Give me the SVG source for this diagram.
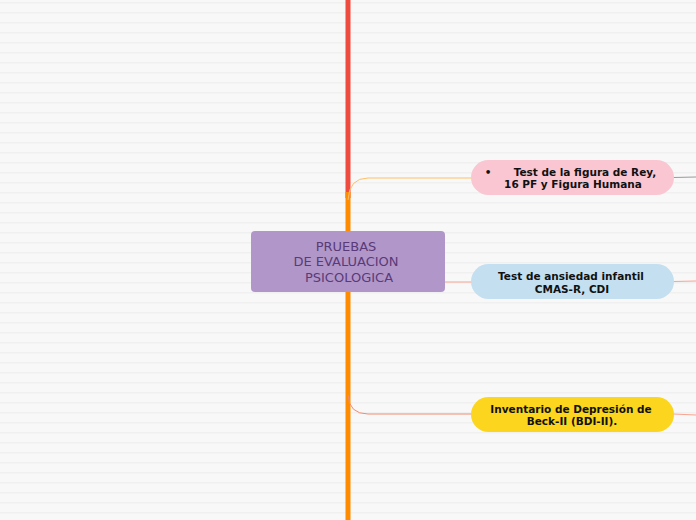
<svg xmlns="http://www.w3.org/2000/svg" width="696" height="520" viewBox="0 0 696 520">
<defs>
<pattern id="stripes" x="0" y="0" width="696" height="10" patternUnits="userSpaceOnUse">
<rect width="696" height="10" fill="#f8f8f8"/>
<rect y="2" width="696" height="1.5" fill="#f0f0f0"/>
</pattern>
</defs>
<style>
.node-text{font-family:"DejaVu Sans",Verdana,sans-serif;font-size:10.5px;font-weight:bold;fill:#111;text-anchor:middle}
.main-text{font-family:"DejaVu Sans",Verdana,sans-serif;font-size:13px;fill:#5a3a78;text-anchor:middle}
.conn{fill:none;stroke-width:1}
</style>
<rect width="696" height="520" fill="url(#stripes)"/>
<g id="connectors">
<line x1="348" y1="0" x2="348" y2="198" stroke="#ef4b3f" stroke-width="5"/>
<line x1="348" y1="192" x2="348" y2="520" stroke="#ff8c00" stroke-width="5"/>
<path class="conn" d="M348,200 Q349,178 368,178 L472,178" stroke="#ffbe66"/>
<path class="conn" d="M445,282 L472,282" stroke="#f7a48f"/>
<path class="conn" d="M348,395 Q349,414 368,414 L472,414" stroke="#f28a6f"/>
<path class="conn" d="M673,177.5 L696,177" stroke="#999999"/>
<path class="conn" d="M673,281.5 L696,281" stroke="#f7a48f"/>
<path class="conn" d="M673,414 L696,415" stroke="#f7a48f"/>
</g>
<g id="main">
<rect x="251" y="231" width="194" height="61" rx="4" fill="#b197c9"/>
<text class="main-text"><tspan x="346" y="251">PRUEBAS</tspan><tspan x="346" y="266">DE EVALUACION</tspan><tspan x="349" y="282">PSICOLOGICA</tspan></text>
</g>
<g id="node1">
<rect x="471" y="160" width="203" height="35" rx="17.5" fill="#f9c6d2"/>
<text class="node-text"><tspan x="488" y="176">•</tspan><tspan x="585" y="176">Test de la figura de Rey,</tspan><tspan x="573" y="188">16 PF y Figura Humana</tspan></text>
</g>
<g id="node2">
<rect x="471" y="264" width="203" height="35" rx="17.5" fill="#c3dff0"/>
<text class="node-text"><tspan x="571" y="280">Test de ansiedad infantil</tspan><tspan x="572" y="293">CMAS-R, CDI</tspan></text>
</g>
<g id="node3">
<rect x="471" y="397" width="203" height="35" rx="17.5" fill="#fbd51e"/>
<text class="node-text"><tspan x="571" y="413">Inventario de Depresión de</tspan><tspan x="572" y="425">Beck-II (BDI-II).</tspan></text>
</g>
</svg>
